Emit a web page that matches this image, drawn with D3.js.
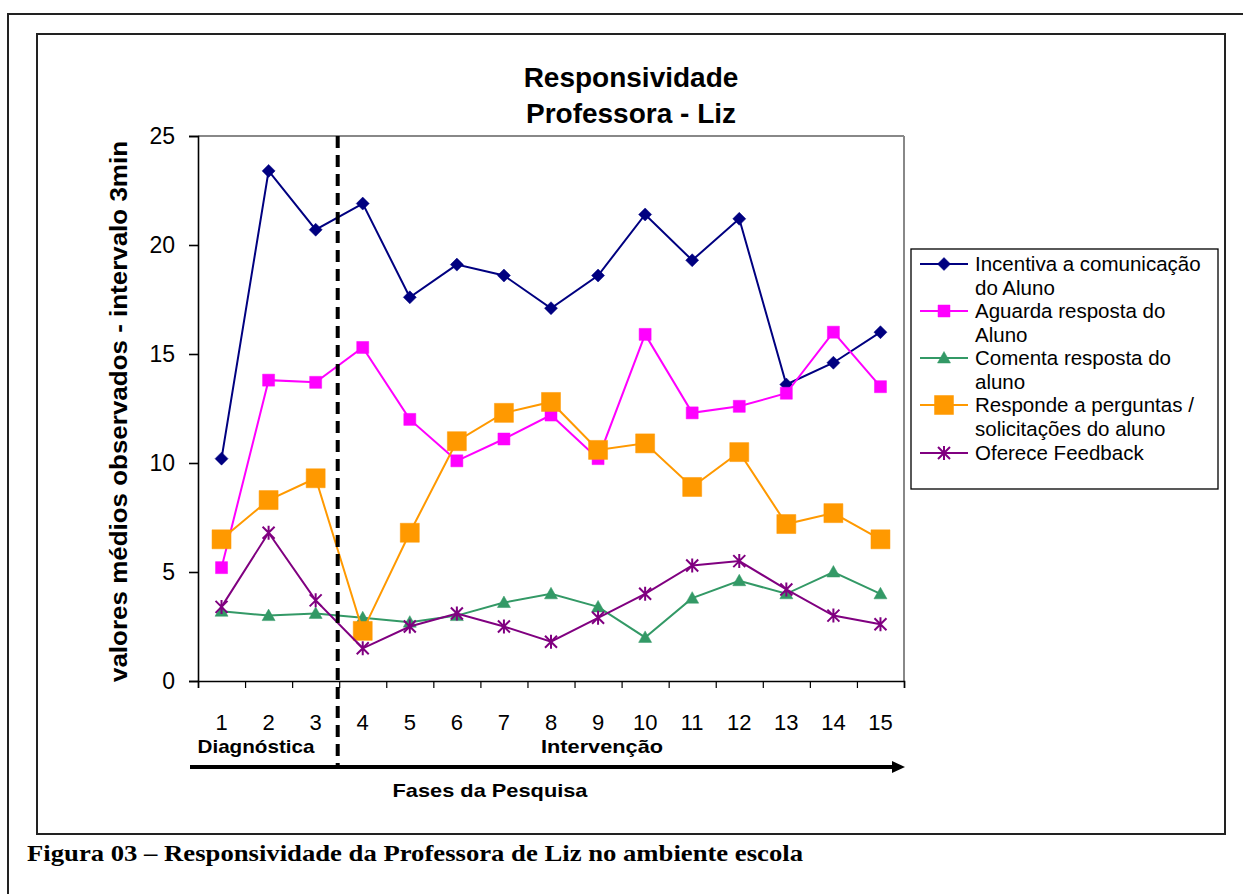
<!DOCTYPE html>
<html>
<head>
<meta charset="utf-8">
<script src="https://cdn.jsdelivr.net/npm/d3@7"></script>
<style>
  html, body { margin: 0; padding: 0; background: #fff; }
  svg { display: block; }
</style>
</head>
<body>
<svg id="chart" width="1243" height="894"></svg>
<script>
// ---------- data ----------
const categories = ["1","2","3","4","5","6","7","8","9","10","11","12","13","14","15"];
const seriesNames = [
  ["Incentiva a comunicação", "do Aluno"],
  ["Aguarda resposta do", "Aluno"],
  ["Comenta resposta do", "aluno"],
  ["Responde a perguntas /", "solicitações do aluno"],
  ["Oferece Feedback"]
];
const incentiva = [10.2, 23.4, 20.7, 21.9, 17.6, 19.1, 18.6, 17.1, 18.6, 21.4, 19.3, 21.2, 13.6, 14.6, 16.0];
const aguarda   = [5.2, 13.8, 13.7, 15.3, 12.0, 10.1, 11.1, 12.2, 10.2, 15.9, 12.3, 12.6, 13.2, 16.0, 13.5];
const comenta   = [3.2, 3.0, 3.1, 2.9, 2.7, 3.0, 3.6, 4.0, 3.4, 2.0, 3.8, 4.6, 4.0, 5.0, 4.0];
const responde  = [6.5, 8.3, 9.3, 2.3, 6.8, 11.0, 12.3, 12.8, 10.6, 10.9, 8.9, 10.5, 7.2, 7.7, 6.5];
const feedback  = [3.4, 6.8, 3.7, 1.5, 2.5, 3.1, 2.5, 1.8, 2.9, 4.0, 5.3, 5.5, 4.2, 3.0, 2.6];
const yTicks = [0, 5, 10, 15, 20, 25];
const titleLines = ["Responsividade", "Professora - Liz"];
const yTitle = "valores médios observados - intervalo 3min";
const phaseLabels = ["Diagnóstica", "Intervenção"];
const xTitle = "Fases da Pesquisa";
const caption = "Figura 03 – Responsividade da Professora de Liz no ambiente escola";
const phaseSplit = 3; // dashed line after category index 3

// ---------- styles ----------
const SANS = "'Liberation Sans', Arial, sans-serif";
const SERIF = "'Liberation Serif', 'Times New Roman', serif";
const colors = ["#000080", "#FF00FF", "#339966", "#FF9900", "#800080"];
const markers = ["diamond", "square", "triangle", "bigsquare", "star"];
const allSeries = [incentiva, aguarda, comenta, responde, feedback];

const svg = d3.select("#chart").style("font-family", SANS);

// frames
svg.append("line").attr("x1", 8).attr("x2", 1243).attr("y1", 14).attr("y2", 14)
  .attr("stroke", "#222").attr("stroke-width", 2);
svg.append("line").attr("x1", 8).attr("x2", 8).attr("y1", 13).attr("y2", 894)
  .attr("stroke", "#222").attr("stroke-width", 2);
svg.append("rect").attr("x", 37).attr("y", 34).attr("width", 1188).attr("height", 800)
  .attr("fill", "none").attr("stroke", "#222").attr("stroke-width", 2);

// scales
const L = 198, R = 904, T = 136, B = 681;
const x = d3.scaleBand().domain(categories).range([L, R]);
const xb = d3.scaleLinear().domain([0, categories.length]).range([L, R]);
const y = d3.scaleLinear().domain([0, 25]).range([B, T]);

// plot frame (gray top/right)
svg.append("line").attr("x1", L).attr("x2", R).attr("y1", T).attr("y2", T)
  .attr("stroke", "#888").attr("stroke-width", 2);
svg.append("line").attr("x1", R).attr("x2", R).attr("y1", T).attr("y2", B)
  .attr("stroke", "#888").attr("stroke-width", 2);

// y axis
const yAx = svg.append("g").attr("transform", `translate(${L},0)`)
  .call(d3.axisLeft(y).tickValues(yTicks).tickSize(9).tickPadding(14).tickFormat(d3.format("d")));
yAx.selectAll("path, line").attr("stroke", "#000").attr("stroke-width", 1.6);
yAx.selectAll("text").style("font-size", "23px").style("font-family", SANS).attr("fill", "#000");

// x axis (boundary ticks)
const xAx = svg.append("g").attr("transform", `translate(0,${B})`)
  .call(d3.axisBottom(xb).tickValues(d3.range(0, categories.length + 1)).tickSize(7).tickFormat(""));
xAx.select("path").attr("stroke", "#000").attr("stroke-width", 1.6);
xAx.selectAll("line").attr("stroke", "#000").attr("stroke-width", 1.2);

// x labels
svg.append("g").selectAll("text").data(categories).join("text")
  .attr("x", d => x(d) + x.bandwidth() / 2)
  .attr("y", 730)
  .attr("text-anchor", "middle")
  .style("font-size", "22px")
  .text(d => d);

// title
svg.append("g").selectAll("text").data(titleLines).join("text")
  .attr("x", 631).attr("y", (d, i) => 87 + i * 36)
  .attr("text-anchor", "middle").style("font-size", "28px").style("font-weight", "bold")
  .text(d => d);

// y title
svg.append("text")
  .attr("transform", `translate(127,${(T + B) / 2 + 3}) rotate(-90)`)
  .attr("text-anchor", "middle").style("font-size", "24px").style("font-weight", "bold")
  .attr("textLength", 541).attr("lengthAdjust", "spacingAndGlyphs")
  .text(yTitle);

// series
function markerPath(type) {
  switch (type) {
    case "diamond": return "M0,-6.5L6.5,0L0,6.5L-6.5,0Z";
    case "square": return "M-6,-6H6V6H-6Z";
    case "bigsquare": return "M-9.5,-9.5H9.5V9.5H-9.5Z";
    case "triangle": return "M0,-6.5L6.5,5L-6.5,5Z";
    case "star": return "M-6,-6L6,6M-6,6L6,-6M0,-7V7";
  }
}
const line = d3.line().x((d, i) => x(categories[i]) + x.bandwidth() / 2).y(d => y(d));

allSeries.forEach((vals, si) => {
  const g = svg.append("g");
  g.append("path").datum(vals).attr("d", line)
    .attr("fill", "none").attr("stroke", colors[si]).attr("stroke-width", 2);
  const isStar = markers[si] === "star";
  g.selectAll("path.m").data(vals).join("path").attr("class", "m")
    .attr("transform", (d, i) => `translate(${x(categories[i]) + x.bandwidth() / 2},${y(d)})`)
    .attr("d", markerPath(markers[si]))
    .attr("fill", isStar ? "none" : colors[si])
    .attr("stroke", colors[si])
    .attr("stroke-width", isStar ? 2 : 0.5);
});

// dashed phase separator
svg.append("line")
  .attr("x1", xb(phaseSplit) - 1.5).attr("x2", xb(phaseSplit) - 1.5)
  .attr("y1", T).attr("y2", 769)
  .attr("stroke", "#000").attr("stroke-width", 4).attr("stroke-dasharray", "12,7");

// phase labels
svg.append("text").attr("x", 256).attr("y", 753)
  .attr("text-anchor", "middle").style("font-size", "19px").style("font-weight", "bold")
  .attr("textLength", 117).attr("lengthAdjust", "spacingAndGlyphs").text(phaseLabels[0]);
svg.append("text").attr("x", 602).attr("y", 753)
  .attr("text-anchor", "middle").style("font-size", "19px").style("font-weight", "bold")
  .attr("textLength", 122).attr("lengthAdjust", "spacingAndGlyphs").text(phaseLabels[1]);

// arrow
svg.append("line").attr("x1", 190).attr("x2", 894).attr("y1", 767).attr("y2", 767)
  .attr("stroke", "#000").attr("stroke-width", 4);
svg.append("path").attr("d", "M892,761L905,767L892,773Z").attr("fill", "#000");

svg.append("text").attr("x", 490).attr("y", 797)
  .attr("text-anchor", "middle").style("font-size", "19px").style("font-weight", "bold")
  .attr("textLength", 195).attr("lengthAdjust", "spacingAndGlyphs").text(xTitle);

// legend
const lg = svg.append("g");
lg.append("rect").attr("x", 911).attr("y", 249).attr("width", 307).attr("height", 240)
  .attr("fill", "#fff").attr("stroke", "#000").attr("stroke-width", 1.3);
const legendY = [264, 311, 358, 405, 453];
seriesNames.forEach((names, si) => {
  const yy = legendY[si];
  lg.append("line").attr("x1", 920).attr("x2", 968).attr("y1", yy).attr("y2", yy)
    .attr("stroke", colors[si]).attr("stroke-width", 2);
  const isStar = markers[si] === "star";
  lg.append("path").attr("transform", `translate(944,${yy})`).attr("d", markerPath(markers[si]))
    .attr("fill", isStar ? "none" : colors[si]).attr("stroke", colors[si]).attr("stroke-width", isStar ? 2 : 0.5);
  names.forEach((t, li) => {
    lg.append("text").attr("x", 975).attr("y", yy + 7 + li * 24).style("font-size", "20.5px").text(t);
  });
});

// caption
svg.append("text").attr("x", 27).attr("y", 861)
  .style("font-family", SERIF)
  .style("font-size", "23px").style("font-weight", "bold")
  .attr("textLength", 776).attr("lengthAdjust", "spacingAndGlyphs").text(caption);
</script>
</body>
</html>
